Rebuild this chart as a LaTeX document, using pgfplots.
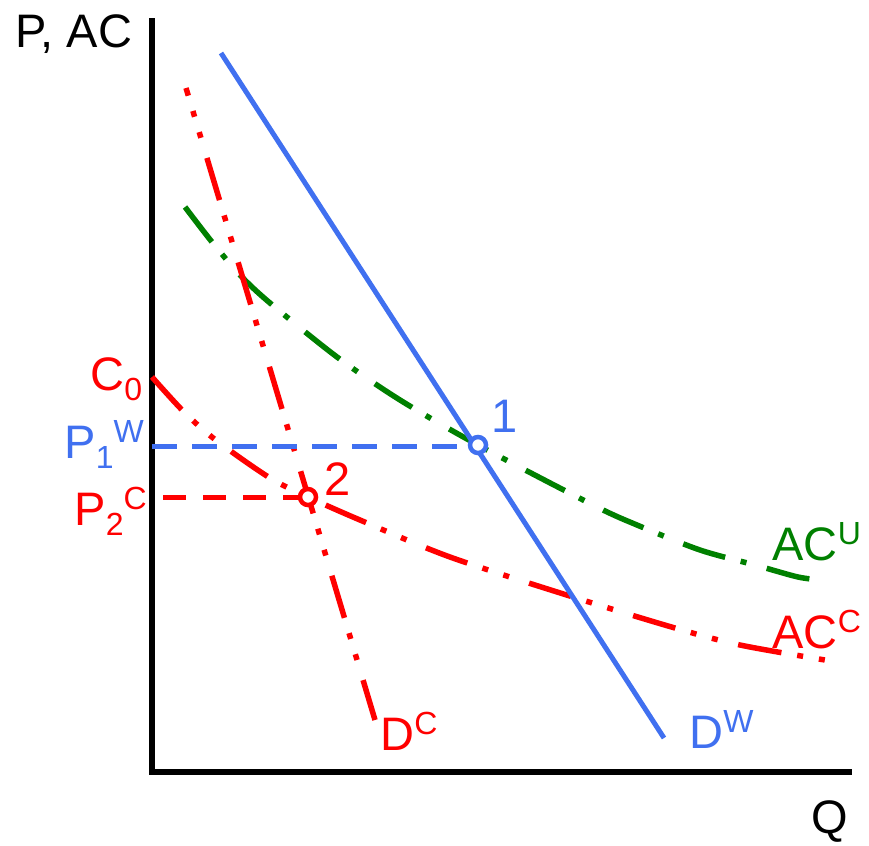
\documentclass[border=0pt]{standalone}
\usepackage{pgfplots}
\pgfplotsset{compat=1.18}
\usepackage{fontspec}
\setmainfont{Liberation Sans}
\definecolor{cblue}{RGB}{64,112,240}
\definecolor{cred}{RGB}{255,0,0}
\definecolor{cgreen}{RGB}{0,128,0}
\newcommand\lbl[1]{{\fontsize{47}{50}\selectfont #1}}
\newcommand\lsub[1]{\raisebox{-10pt}{\fontsize{32}{36}\selectfont #1}}
\newcommand\lsup[1]{\raisebox{16pt}{\fontsize{32}{36}\selectfont #1}}
\begin{document}
\begin{tikzpicture}
\begin{axis}[
  scale only axis,
  width=869pt, height=839pt,
  xmin=0, xmax=869, ymin=0, ymax=839,
  y dir=reverse,
  hide axis, clip=false,
  every node/.style={inner sep=0pt, outer sep=0pt},
]
\path (rel axis cs:0,0) rectangle (rel axis cs:1,1);
% axes
\addplot[black, line width=6pt, line cap=butt] coordinates {(152,18) (152,772) (852,772)};
% AC^C
\addplot[cred, line width=5.5pt, smooth, dash pattern=on 44pt off 16pt on 6pt off 16pt on 6pt off 21pt]
  coordinates {(152,377) (185,413) (217,441) (270,478) (308,497) (360,520) (450,557) (573,597) (675,628) (740,645) (825,660)};
% AC^U
\addplot[cgreen, line width=5.5pt, smooth, dash pattern=on 44pt off 16pt on 6pt off 21pt]
  coordinates {(185,207) (212,242) (240,275) (270,303) (337,357) (400,400) (478,445) (593,505) (637,525) (700,550) (755,565) (798,577) (822,580)};
% D^C
\addplot[cred, line width=5.5pt, dash pattern=on 44pt off 16pt on 6pt off 16pt on 6pt off 21pt, dash phase=36pt]
  coordinates {(186,88) (375,720)};
% D^W
\addplot[cblue, line width=5pt] coordinates {(221,53) (664,738)};
% price lines
\addplot[cblue, line width=5pt, dash pattern=on 25pt off 15pt] coordinates {(152,446) (478,446)};
\addplot[cred, line width=5pt, dash pattern=on 23pt off 17pt] coordinates {(163,497) (308,497)};
% equilibrium points
\addplot[only marks, mark=*, mark size=8pt, mark options={fill=white, draw=cblue, line width=4.5pt}] coordinates {(478,445)};
\addplot[only marks, mark=*, mark size=8pt, mark options={fill=white, draw=cred, line width=4.5pt}] coordinates {(308,497)};
% labels
\node[anchor=base west] at (axis cs:12,47) {\lbl{P, AC}};
\node[anchor=base west] at (axis cs:808,833) {\lbl{Q}};
\node[anchor=base west, text=cred] at (axis cs:87,390) {\lbl{C}\lsub{0}};
\node[anchor=base west, text=cblue] at (axis cs:61,458) {\lbl{P}\lsub{1}\lsup{W}};
\node[anchor=base west, text=cred] at (axis cs:71,525) {\lbl{P}\lsub{2}\lsup{C}};
\node[anchor=base west, text=cblue] at (axis cs:488,432) {\lbl{1}};
\node[anchor=base west, text=cred] at (axis cs:321,495) {\lbl{2}};
\node[anchor=base west, text=cgreen] at (axis cs:769,560) {\lbl{AC}\lsup{U}};
\node[anchor=base west, text=cred] at (axis cs:769,648) {\lbl{AC}\lsup{C}};
\node[anchor=base west, text=cred] at (axis cs:377,750) {\lbl{D}\lsup{C}};
\node[anchor=base west, text=cblue] at (axis cs:686,748) {\lbl{D}\lsup{W}};
\end{axis}
\end{tikzpicture}
\end{document}
